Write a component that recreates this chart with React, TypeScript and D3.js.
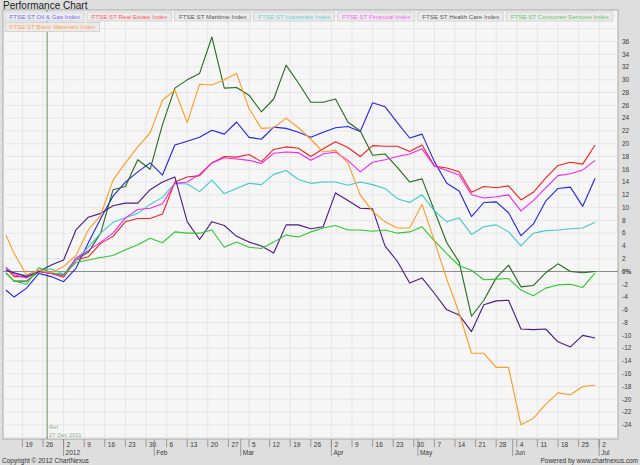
import * as d3 from "d3";

const W = 640;
const H = 465;

const seriesNames = [
  "FTSE ST Oil & Gas Index",
  "FTSE ST Real Estate Index",
  "FTSE ST Maritime Index",
  "FTSE ST Industrials Index",
  "FTSE ST Financial Index",
  "FTSE ST Health Care Index",
  "FTSE ST Consumer Services Index",
  "FTSE ST Basic Materials Index",
];
const lineColors = ["#2424e8", "#f52020", "#236b1c", "#3fcaca", "#f325f3", "#4a1a86", "#2ec82e", "#ff9a22"];
const legendColors = ["#6f6fff", "#ff5a5a", "#555555", "#5fd3d3", "#ff5cff", "#555555", "#66c866", "#ffa24f"];

// trading-day offsets from Mon 19 Dec 2011 at which the values were read
const sampleDays = [-4, ...d3.range(-2, 140, 3)];

// % change since the reference date (27 Dec 2011)
const oilGas = [-2.9, -4, -2.6, -0.3, -0.8, -1.6, 0.5, 4.5, 8.3, 11.8, 14, 15.6, 17, 15.1, 19.8, 20.4, 21, 22.1, 21.5, 23.4, 21, 20.7, 22.6, 22.4, 21.8, 21, 21.8, 22.5, 22.7, 21.9, 26.4, 25.8, 23.3, 20.9, 21.5, 17.2, 13.8, 12.6, 8.6, 10.8, 10.9, 9.2, 5.6, 7.4, 11, 13, 13.2, 10.2, 14.6];
const realEstate = [0.5, -0.8, -0.8, 0, -0.3, -0.9, 1.8, 2.3, 4.4, 5.5, 7.8, 8.3, 8.3, 9, 14, 14.8, 15, 17, 18, 17.9, 18.3, 17.2, 19.1, 19.5, 19.3, 18, 19.2, 20.3, 19.4, 18, 19.7, 19.6, 19.6, 18.8, 19.8, 16.5, 16.2, 15.6, 12.4, 13.3, 13.1, 13.4, 11.2, 12.4, 14.6, 16.6, 17.1, 16.8, 19.8];
const maritime = [-0.2, -1.5, -1.5, 0, -0.3, -0.5, 1.9, 3, 6, 12.8, 13.3, 17.5, 16, 23, 28.7, 30, 31, 36.7, 28.7, 28.8, 27.6, 25, 27, 32.3, 29.5, 26.5, 26.5, 27, 23.4, 22, 18.2, 18.4, 16.3, 14, 14.5, 9.5, 4.5, 1.5, -7, -4.5, -1, 1, -2.4, -2.2, -0.2, 1.2, 0, -0.2, 0];
const industrials = [0.5, -0.3, -0.6, 0.2, 0.4, -0.4, 1.8, 3.8, 6, 7.7, 8.4, 9.1, 10.5, 11.6, 13.8, 13.7, 12.5, 14.3, 12.2, 13, 13.8, 13.6, 15.2, 15.8, 14.4, 13.8, 14, 14, 13.5, 14, 13.6, 13, 11.4, 10.8, 12, 9.5, 7.8, 8.4, 5.8, 7, 7.3, 6.2, 4, 6, 6.4, 6.5, 6.7, 6.8, 7.7];
const financial = [0.7, -0.5, -1, 0, -0.3, -0.7, 2.1, 3.3, 4.6, 6, 8.4, 9.7, 9.9, 10.6, 13.8, 14, 15.2, 17, 17.8, 17.6, 17.4, 16.9, 18.5, 18.7, 18.6, 17.4, 18.4, 18.7, 17.4, 15.6, 17.1, 17.5, 18, 18.4, 19.2, 16.5, 15.8, 15.1, 12, 11.5, 11.7, 12, 9.5, 11.1, 13.1, 15, 15.3, 15.9, 17.4];
const healthCare = [0.2, -0.2, -0.8, 0, 1, 1.8, 6.5, 8.5, 9.1, 10.3, 10.7, 10.7, 12.8, 14, 14.8, 7.8, 5, 7.8, 7.2, 5.5, 4.6, 4, 2.9, 7.3, 7.3, 6.7, 7, 12.3, 11.1, 9.9, 9.8, 4, 1.6, -1.8, -1, -3.4, -6, -6.8, -9.4, -5.2, -4.6, -4.5, -9, -9.1, -9, -11, -11.8, -10, -10.4];
const consumerServices = [-0.2, -1.5, -2, 0.6, -0.2, -0.5, 1.4, 1.8, 2.2, 2.5, 3.4, 4.2, 5.2, 4.5, 6.2, 6, 6, 6.5, 3.8, 4.6, 3.8, 3.6, 4.6, 5.7, 5.4, 6.2, 6.8, 7.2, 6.5, 6.5, 6.3, 6.5, 6, 6.2, 7, 4.8, 2.8, 0.9, 0.2, -1.3, -1.2, -1.1, -2.9, -3.8, -2.6, -2.1, -2, -2.5, -0.2];
const basicMaterials = [5.7, 2.8, -0.5, 0.2, -0.2, 0.8, 2.5, 6.5, 8.8, 14.3, 17, 19.5, 21.7, 26.8, 28.4, 23.3, 29.3, 29.2, 30, 31, 25.5, 22.4, 22.5, 24, 22.5, 20.7, 18.7, 19, 17, 12, 9.4, 7.8, 6.8, 6.8, 10.5, 4.8, -1.2, -6.5, -12.8, -12.8, -15, -15, -24, -23, -20.8, -19, -19.3, -18, -17.8];

const allSeries = [oilGas, realEstate, maritime, industrials, financial, healthCare, consumerServices, basicMaterials];

const yTickValues = d3.range(-24, 37, 2);
const gridValues = d3.range(-26, 41, 2);

const refDate = new Date(2011, 11, 27);
const baseDate = new Date(2011, 11, 19);
const tradingDays = d3.timeDay
  .range(new Date(2011, 11, 13), new Date(2012, 6, 3))
  .filter((d) => d.getDay() !== 0 && d.getDay() !== 6);

const font = "'Liberation Sans', Arial, sans-serif";

function textWidth(s: string, size: number) {
  const c = document.createElement("canvas").getContext("2d");
  if (!c) return s.length * size * 0.5;
  c.font = `${size}px 'Liberation Sans', Arial, sans-serif`;
  return c.measureText(s).width;
}

export default function App() {
  const plot = { left: 3, top: 10, right: 618, bottom: 439 };
  const baseIdx = tradingDays.findIndex((d) => +d === +baseDate);
  const dayIndex = (d: Date) => tradingDays.findIndex((t) => +t === +d) - baseIdx;

  const x = d3.scaleLinear().domain([0, 140]).range([22.4, 599.2]);
  const y = d3.scaleLinear().domain([0, 36]).range([271.5, 41.5]);

  const weekTicks = tradingDays
    .map((d, i) => ({ d, i: i - baseIdx }))
    .filter((t) => t.d.getDay() === 1 && t.i >= 0);
  const monthTicks = tradingDays
    .map((d, i) => ({ d, i: i - baseIdx, first: i > 0 && tradingDays[i - 1].getMonth() !== d.getMonth() }))
    .filter((t) => t.first)
    .map((t) => ({ ...t, label: t.d.getMonth() === 0 ? d3.timeFormat("%Y")(t.d) : d3.timeFormat("%b")(t.d) }));

  const line = d3
    .line<number>()
    .x((_, i) => x(sampleDays[i]))
    .y((v) => y(v));

  // legend boxes flow left to right, wrapping inside the frame
  const legendSize = 6.2;
  let lx = 5;
  let ly = 12;
  const legend = seriesNames.map((name, i) => {
    const w = textWidth(name, legendSize) + 8.5;
    if (lx + w > plot.right) {
      lx = 5;
      ly += 10.5;
    }
    const item = { name, i, x: lx, y: ly, w };
    lx += w + 3;
    return item;
  });

  const refX = x(dayIndex(refDate));

  return (
    <svg
      width={W}
      height={H}
      style={{ position: "absolute", left: 0, top: 0, fontFamily: font }}
    >
      <rect width={W} height={H} fill="#dedede" />
      <text x={3} y={8.5} fontSize={10} fill="#1a1a1a">Performance Chart</text>
      <rect x={plot.left} y={plot.top} width={plot.right - plot.left} height={plot.bottom - plot.top} fill="#f6f6f6" stroke="#a8a8a8" strokeWidth={1} />
      <defs>
        <clipPath id="plotClip">
          <rect x={plot.left} y={plot.top} width={plot.right - plot.left} height={plot.bottom - plot.top} />
        </clipPath>
      </defs>
      <g clipPath="url(#plotClip)">
        {gridValues.map((v) => (
          <line key={"h" + v} x1={plot.left} x2={plot.right} y1={y(v)} y2={y(v)} stroke="#e6e6e6" strokeWidth={1} />
        ))}
        {weekTicks.map((t) => (
          <line key={"v" + t.i} x1={x(t.i)} x2={x(t.i)} y1={plot.top} y2={plot.bottom} stroke="#e6e6e6" strokeWidth={1} />
        ))}
        <line x1={plot.left} x2={plot.right} y1={y(0)} y2={y(0)} stroke="#8c8c8c" strokeWidth={1} />
        <line x1={refX} x2={refX} y1={plot.top} y2={plot.bottom} stroke="#5f8f5f" strokeWidth={1} />
        <text x={refX + 2} y={429} fontSize={5.8} fill="#8fae8f">Ref</text>
        <text x={refX + 2} y={436.5} fontSize={5.8} fill="#8fae8f">27 Dec 2011</text>
        {allSeries.map((s, i) => (
          <path key={seriesNames[i]} d={line(s) ?? ""} fill="none" stroke={lineColors[i]} strokeWidth={1.1} strokeLinejoin="round" />
        ))}
      </g>
      {legend.map((l) => (
        <g key={l.name}>
          <rect x={l.x} y={l.y} width={l.w} height={9} fill="#ebebeb" stroke="#cdcdcd" strokeWidth={0.8} />
          <text x={l.x + 4.5} y={l.y + 6.6} fontSize={legendSize} fill={legendColors[l.i]}>{l.name}</text>
        </g>
      ))}
      {yTickValues.map((v) => (
        <text key={"yl" + v} x={622} y={y(v)} dy="0.35em" fontSize={6.5} fill="#3a3a3a" fontWeight={v === 0 ? "bold" : "normal"}>
          {v === 0 ? "0%" : v}
        </text>
      ))}
      {weekTicks.map((t) => (
        <g key={"wt" + t.i}>
          <line x1={x(t.i)} x2={x(t.i)} y1={plot.bottom} y2={plot.bottom + 8} stroke="#888" strokeWidth={0.8} />
          <text x={x(t.i) + 3} y={446.5} fontSize={6.5} fill="#3a3a3a">{t.d.getDate()}</text>
        </g>
      ))}
      {monthTicks.map((t) => (
        <g key={"mt" + t.i}>
          <line x1={x(t.i)} x2={x(t.i)} y1={plot.bottom} y2={plot.bottom + 17} stroke="#888" strokeWidth={0.8} />
          <text x={x(t.i) + 2} y={455} fontSize={6.5} fill="#3a3a3a">{t.label}</text>
        </g>
      ))}
      <text x={2} y={463} fontSize={6.5} fill="#333">Copyright © 2012 ChartNexus</text>
      <text x={638} y={463} fontSize={6.5} fill="#333" textAnchor="end">Powered by www.chartnexus.com</text>
    </svg>
  );
}
